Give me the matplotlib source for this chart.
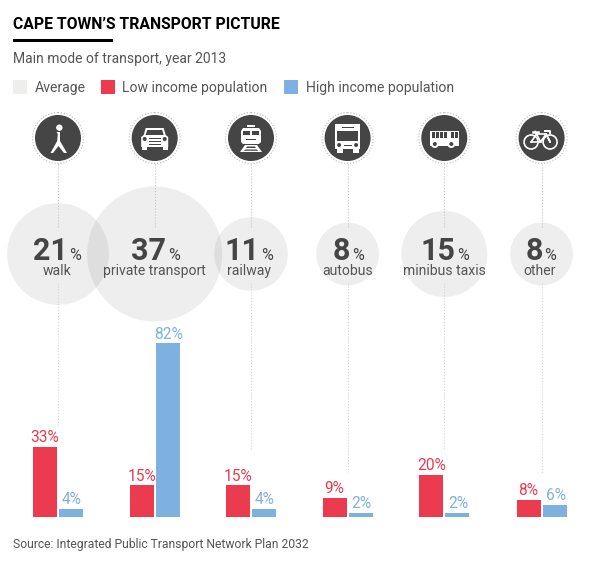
#Cape Town transport picture - show the main mode of transport as bubbles
#and the low / high income share of each mode as bars underneath.

import matplotlib.pyplot as plt
import numpy as np

modes = ['walk', 'private transport', 'railway', 'autobus', 'minibus taxis', 'other']
average = [21, 37, 11, 8, 15, 8]
low_income = [33, 15, 15, 9, 20, 8]
high_income = [4, 82, 4, 2, 2, 6]

columns = np.array([58, 154.7, 251, 347.6, 444.3, 541.6])
number_shift = [8, 10.3, 7, 1.4, 10, 0]   #the number and its % are centred together
label_shift = [-0.5, 0, -2, 0, 0, -2]
line_ends = [427, 305, 450, 472, 450, 473]

dark = '#454545'
grey = '#555555'
red = '#EC3A4F'
blue = '#7FB1E0'

def white(shape):
    shape.set_facecolor('white')
    shape.set_edgecolor('none')
    plt.gca().add_patch(shape)

def hole(shape):
    shape.set_facecolor(dark)
    shape.set_edgecolor('none')
    plt.gca().add_patch(shape)

def walk_icon(x, y):
    white(plt.Circle((x + 1.3, y - 10.3), 3.2))
    white(plt.Polygon([(x - 1.5, y - 6), (x + 2, y - 6), (x + 2, y + 3), (x + 9, y + 15), (x + 6, y + 15),
                       (x + 0.5, y + 8), (x - 5, y + 15), (x - 7.5, y + 15), (x - 0.8, y + 3), (x - 0.2, y - 4)]))

def car_icon(x, y):
    white(plt.Polygon([(x - 9, y - 10), (x + 9, y - 10), (x + 11, y - 3), (x + 13.5, y - 1), (x + 13.5, y + 9),
                       (x - 13.5, y + 9), (x - 13.5, y - 1), (x - 11, y - 3)]))
    white(plt.Rectangle((x - 13, y + 8), 5, 4))
    white(plt.Rectangle((x + 8, y + 8), 5, 4))
    hole(plt.Polygon([(x - 7.5, y - 8), (x + 7.5, y - 8), (x + 9, y - 3), (x - 9, y - 3)]))
    hole(plt.Circle((x - 10, y + 1), 2))
    hole(plt.Circle((x + 10, y + 1), 2))
    for gap in [0, 3, 6]:
        hole(plt.Rectangle((x - 6, y + gap), 12, 1))

def train_icon(x, y):
    white(plt.Polygon([(x - 8, y - 10), (x + 8, y - 10), (x + 10, y - 7), (x + 10, y + 4), (x + 8, y + 6),
                       (x - 8, y + 6), (x - 10, y + 4), (x - 10, y - 7)]))
    white(plt.Rectangle((x - 4, y - 13), 8, 1.5))
    hole(plt.Rectangle((x - 8, y - 7.5), 7, 4.5))
    hole(plt.Rectangle((x + 1, y - 7.5), 7, 4.5))
    hole(plt.Rectangle((x - 5, y + 1), 10, 1))
    white(plt.Polygon([(x - 6, y + 7), (x + 6, y + 7), (x + 11, y + 14), (x - 11, y + 14)]))
    hole(plt.Polygon([(x - 4, y + 8.5), (x + 4, y + 8.5), (x + 5, y + 10), (x - 5, y + 10)]))
    hole(plt.Polygon([(x - 6, y + 11.5), (x + 6, y + 11.5), (x + 7, y + 12.8), (x - 7, y + 12.8)]))

def bus_icon(x, y):
    white(plt.Rectangle((x - 12.5, y - 14), 25, 25))
    white(plt.Rectangle((x - 11, y + 10), 6, 5))
    white(plt.Rectangle((x + 5, y + 10), 6, 5))
    hole(plt.Rectangle((x - 10.5, y - 7), 21, 10))
    hole(plt.Rectangle((x - 6, y - 11.5), 12, 1.5))
    hole(plt.Circle((x - 8.5, y + 7), 2))
    hole(plt.Circle((x + 8.5, y + 7), 2))
    hole(plt.Rectangle((x - 4, y + 6.5), 8, 1))

def minibus_icon(x, y):
    white(plt.Rectangle((x - 14, y - 7.5), 28.5, 15))
    for left in [-12.5, -8.5, -4.5, -0.5, 7, 11]:
        hole(plt.Rectangle((x + left, y - 6), 3, 6))
    for wheel in [-9.5, 7]:
        white(plt.Circle((x + wheel, y + 6), 4))
        hole(plt.Circle((x + wheel, y + 6), 2))

def bike_icon(x, y):
    for wheel in [-10.5, 8.5]:
        plt.gca().add_patch(plt.Circle((x + wheel, y + 4), 7, fill=False, edgecolor='white', linewidth=1.2))
    xs = [x - 10.5, x - 5, x + 4.5, x + 8.5, x + 4.5, x - 1, x - 5, x - 6.5]
    ys = [y + 4, y - 4, y - 4, y + 4, y - 4, y + 4, y - 4, y - 6.5]
    plt.plot(xs, ys, color='white', linewidth=1.2)
    plt.plot([x - 1, x - 10.5], [y + 4, y + 4], color='white', linewidth=1.2)
    plt.plot([x - 8.5, x - 4], [y - 6.5, y - 6.5], color='white', linewidth=1.8)
    plt.plot([x + 3.5, x + 8, x + 8], [y - 7, y - 7, y - 5], color='white', linewidth=1.4)

def start():
    plt.rcParams['font.family'] = 'Roboto'
    plt.figure(figsize=(6.03, 5.61), dpi=100)

    # page in pixels, y going down
    plt.axes([0, 0, 1, 1])
    plt.xlim(0, 603)
    plt.ylim(561, 0)
    plt.axis("off")

    plt.text(13, 29, "CAPE TOWN\u2019S TRANSPORT PICTURE", fontsize=11.3, fontweight='bold', color='black')
    plt.gca().add_patch(plt.Rectangle((13, 38.5), 100, 3, color='black', linewidth=0))
    plt.text(13, 63, "Main mode of transport, year 2013", fontsize=10, color=grey)
    plt.text(13, 548, "Source: Integrated Public Transport Network Plan 2032", fontsize=8.7, color=grey)

    # legend
    plt.gca().add_patch(plt.Rectangle((13, 80), 14, 14, color='#EEEEED', linewidth=0))
    plt.text(35, 92, "Average", fontsize=10.1, color=grey)
    plt.gca().add_patch(plt.Rectangle((101, 80), 14, 14, color=red, linewidth=0))
    plt.text(122.5, 92, "Low income population", fontsize=10.1, color=grey)
    plt.gca().add_patch(plt.Rectangle((284, 80), 14, 14, color=blue, linewidth=0))
    plt.text(306, 92, "High income population", fontsize=10.1, color=grey)

    # dotted lines, broken around the text
    for x, end in zip(columns, line_ends):
        plt.plot([x, x], [164, 227], color='#c4c4c4', linewidth=0.8, linestyle=':')
        if end > 305 or x > 200:
            plt.plot([x, x], [283, end], color='#d4d4d4', linewidth=0.8, linestyle=':')

    # bubbles
    for x, value, mode, shift, move in zip(columns, average, modes, number_shift, label_shift):
        plt.gca().add_patch(plt.Circle((x, 254), 11.1 * np.sqrt(value), color='black', alpha=0.066, linewidth=0))
        plt.text(x + shift + 1.5, 260, str(value), fontsize=22, fontweight='bold', color=dark, ha='right')
        plt.text(x + shift + 2.8, 260, "%", fontsize=11.5, color=dark, ha='left')
        plt.text(x + move, 274.5, mode, fontsize=10.1, color=grey, ha='center')

    # icons
    icons = [walk_icon, car_icon, train_icon, bus_icon, minibus_icon, bike_icon]
    for x, icon in zip(columns, icons):
        plt.gca().add_patch(plt.Circle((x, 138), 25.5, fill=False, edgecolor='#bbbbbb', linewidth=0.8, linestyle=':'))
        plt.gca().add_patch(plt.Circle((x, 138), 23, color=dark, linewidth=0))
        icon(x, 138)

    # bars sit on their own axes, in percent
    plt.axes([0, (561 - 517.3) / 561, 1, 217.3 / 561])
    plt.xlim(0, 603)
    plt.ylim(0, 217.3 / 2.12)
    plt.axis("off")
    plt.bar(columns - 13, low_income, width=24, color=red)
    plt.bar(columns + 13, high_income, width=24, color=blue)
    for x, low, high in zip(columns, low_income, high_income):
        plt.text(x - 13, low + 2.3, str(low) + "%", fontsize=11.2, color=red, ha='center')
        plt.text(x + 14, high + 2.3, str(high) + "%", fontsize=11.2, color=blue, ha='center')

    plt.savefig('out.png', dpi=100)

# main program
start()
